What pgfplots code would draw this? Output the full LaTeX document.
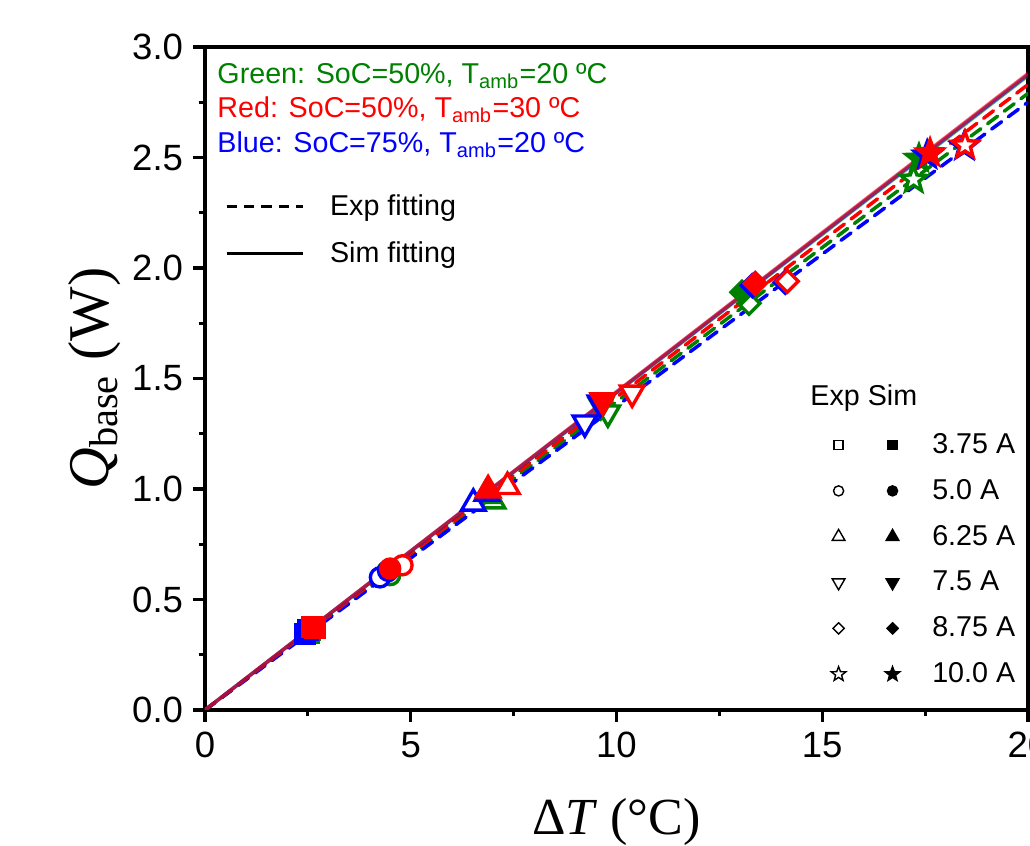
\documentclass[border=0pt]{standalone}
\usepackage{fontspec}
\setmainfont{Liberation Sans}
\newfontfamily\timesfont{Liberation Serif}
\usepackage{pgfplots}
\pgfplotsset{compat=1.18}

\definecolor{cg}{RGB}{0,128,0}
\definecolor{cr}{RGB}{255,0,0}
\definecolor{cb}{RGB}{0,0,255}

% custom marks: up/down triangle, diamond, five-point star (all fill+stroke)
\pgfdeclareplotmark{utri}{%
  \pgfpathmoveto{\pgfqpointpolar{90}{\pgfplotmarksize}}%
  \pgfpathlineto{\pgfqpointpolar{210}{\pgfplotmarksize}}%
  \pgfpathlineto{\pgfqpointpolar{330}{\pgfplotmarksize}}%
  \pgfpathclose\pgfusepathqfillstroke}
\pgfdeclareplotmark{dtri}{%
  \pgfpathmoveto{\pgfqpointpolar{270}{\pgfplotmarksize}}%
  \pgfpathlineto{\pgfqpointpolar{30}{\pgfplotmarksize}}%
  \pgfpathlineto{\pgfqpointpolar{150}{\pgfplotmarksize}}%
  \pgfpathclose\pgfusepathqfillstroke}
\pgfdeclareplotmark{dia}{%
  \pgfpathmoveto{\pgfqpoint{0pt}{\pgfplotmarksize}}%
  \pgfpathlineto{\pgfqpoint{\pgfplotmarksize}{0pt}}%
  \pgfpathlineto{\pgfqpoint{0pt}{-\pgfplotmarksize}}%
  \pgfpathlineto{\pgfqpoint{-\pgfplotmarksize}{0pt}}%
  \pgfpathclose\pgfusepathqfillstroke}
\pgfdeclareplotmark{pstar}{%
  \pgfpathmoveto{\pgfpointpolar{90}{\pgfplotmarksize}}%
  \pgfpathlineto{\pgfpointpolar{126}{0.42\pgfplotmarksize}}%
  \pgfpathlineto{\pgfpointpolar{162}{\pgfplotmarksize}}%
  \pgfpathlineto{\pgfpointpolar{198}{0.42\pgfplotmarksize}}%
  \pgfpathlineto{\pgfpointpolar{234}{\pgfplotmarksize}}%
  \pgfpathlineto{\pgfpointpolar{270}{0.42\pgfplotmarksize}}%
  \pgfpathlineto{\pgfpointpolar{306}{\pgfplotmarksize}}%
  \pgfpathlineto{\pgfpointpolar{342}{0.42\pgfplotmarksize}}%
  \pgfpathlineto{\pgfpointpolar{18}{\pgfplotmarksize}}%
  \pgfpathlineto{\pgfpointpolar{54}{0.42\pgfplotmarksize}}%
  \pgfpathclose\pgfusepathqfillstroke}

\pgfplotsset{
  cls/.style={scatter, only marks, scatter src=explicit symbolic,
    scatter/classes={
      s={mark=square*, mark size=3.3pt},
      c={mark=*, mark size=3.4pt},
      u={mark=utri, mark size=4.8pt},
      d={mark=dtri, mark size=4.8pt},
      m={mark=dia, mark size=3.9pt},
      t={mark=pstar, mark size=4.8pt}}},
  expm/.style={cls, mark options={draw=#1, fill=white, line width=1.2pt}},
  simm/.style={cls, mark options={draw=#1, fill=#1, line width=1.2pt}},
  expfit/.style={#1, line width=1.25pt, dash pattern=on 4.4pt off 3pt, line cap=round},
  simfit/.style={#1, line width=1.25pt, opacity=0.6},
  lgopen/.style={legend image code/.code={\path (0cm,0cm) (0.3cm,0cm); \draw[##1] plot coordinates {(0.15cm,0cm)};},
    only marks, mark options={draw=black, fill=white, line width=0.5pt}},
  lgfill/.style={legend image code/.code={\path (0cm,0cm) (0.64cm,0cm); \draw[##1] plot coordinates {(0.15cm,0cm)};},
    only marks, mark options={draw=black, fill=black, line width=0.5pt}},
  lgline/.style={legend image code/.code={\path (0cm,0cm) (1.275cm,0cm); \draw[##1] (0cm,0cm) -- (0.96cm,0cm);}},
}

\begin{document}
\begin{tikzpicture}
\begin{axis}[
  name=ax,
  scale only axis,
  width=10.2875cm, height=8.2875cm,
  xmin=0, xmax=20, ymin=0, ymax=3,
  xtick={0,5,10,15,20},
  ytick={0,0.5,1,1.5,2,2.5,3},
  minor x tick num=1, minor y tick num=1,
  tick align=outside, xtick pos=bottom, ytick pos=left,
  major tick length=0.15cm, minor tick length=0.08cm,
  every tick/.style={black, line width=1.1pt},
  axis line style={line width=1.1pt},
  yticklabel style={/pgf/number format/.cd, fixed, fixed zerofill, precision=1},
  /pgf/number format/assume math mode=true,
  ticklabel style={font=\fontsize{13}{15}\selectfont},
  every axis x label/.style={at={(axis description cs:0.5,0)}, anchor=center, yshift=-1.4cm},
  every axis y label/.style={at={(axis description cs:0,0.5)}, anchor=center, xshift=-1.375cm, rotate=90},
  xlabel={\timesfont\fontsize{18.5}{22}\selectfont Δ\textit{T} (°C)},
  ylabel={\timesfont\fontsize{20.5}{24}\selectfont\textit{Q}\textsubscript{base} (W)},
  legend style={draw=none, fill=none, inner sep=0pt, outer sep=0pt,
    at={(axis description cs:0.7546,0.4208)}, anchor=north west,
    font=\fontsize{10.2}{12}\selectfont,
    nodes={inner sep=0pt, text height=8pt, text depth=2pt},
    row sep=6.3pt,
    /tikz/every even column/.append style={column sep=0.325cm}},
  legend columns=2, legend cell align=left,
]
% Green: SoC=50%, Tamb=20 C
\addplot[expm=cg, forget plot] table[meta=c] {
x y c
2.52 0.350 s
4.50 0.610 c
7.00 0.945 u
9.79 1.345 d
13.22 1.840 m
17.22 2.400 t
};
\addplot[simm=cg, forget plot] table[meta=c] {
x y c
2.55 0.360 s
4.42 0.625 c
6.85 0.970 u
9.62 1.380 d
13.05 1.890 m
17.35 2.495 t
};
% Blue: SoC=75%, Tamb=20 C
\addplot[expm=cb, forget plot] table[meta=c] {
x y c
2.42 0.345 s
4.25 0.600 c
6.52 0.935 u
9.23 1.300 d
14.10 1.935 m
18.45 2.550 t
};
\addplot[simm=cb, forget plot] table[meta=c] {
x y c
2.50 0.360 s
4.45 0.630 c
6.85 0.980 u
9.60 1.390 d
13.30 1.920 m
17.55 2.510 t
};
% Red: SoC=50%, Tamb=30 C
\addplot[expm=cr, forget plot] table[meta=c] {
x y c
2.68 0.370 s
4.80 0.655 c
7.35 1.010 u
10.38 1.435 d
14.15 1.940 m
18.47 2.555 t
};
\addplot[simm=cr, forget plot] table[meta=c] {
x y c
2.60 0.375 s
4.50 0.640 c
6.88 0.995 u
9.67 1.400 d
13.37 1.930 m
17.62 2.520 t
};
% linear fits
\addplot[expfit=cg, forget plot] coordinates {(0,0) (20,2.79)};
\addplot[expfit=cb, forget plot] coordinates {(0,0) (20,2.75)};
\addplot[expfit=cr, forget plot] coordinates {(0,0) (20,2.83)};
\addplot[simfit=cg, forget plot] coordinates {(0,0) (20,2.870)};
\addplot[simfit=cb, forget plot] coordinates {(0,0) (20,2.875)};
\addplot[simfit=cr, forget plot] coordinates {(0,0) (20,2.880)};

% marker legend
\addlegendimage{lgopen, mark=square*, mark size=1.6pt}\addlegendentry{}
\addlegendimage{lgfill, mark=square*, mark size=1.6pt}\addlegendentry{3.75 A}
\addlegendimage{lgopen, mark=*, mark size=1.8pt}\addlegendentry{}
\addlegendimage{lgfill, mark=*, mark size=1.8pt}\addlegendentry{5.0 A}
\addlegendimage{lgopen, mark=utri, mark size=2.6pt}\addlegendentry{}
\addlegendimage{lgfill, mark=utri, mark size=2.6pt}\addlegendentry{6.25 A}
\addlegendimage{lgopen, mark=dtri, mark size=2.6pt}\addlegendentry{}
\addlegendimage{lgfill, mark=dtri, mark size=2.6pt}\addlegendentry{7.5 A}
\addlegendimage{lgopen, mark=dia, mark size=2pt}\addlegendentry{}
\addlegendimage{lgfill, mark=dia, mark size=2pt}\addlegendentry{8.75 A}
\addlegendimage{lgopen, mark=pstar, mark size=2.7pt}\addlegendentry{}
\addlegendimage{lgfill, mark=pstar, mark size=2.7pt}\addlegendentry{10.0 A}

\node[anchor=west, inner sep=0pt, font=\fontsize{10.2}{12}\selectfont] at (axis cs:14.70,1.412) {Exp Sim};
\node[anchor=west, inner sep=0pt, text=cg, font=\fontsize{10.2}{12}\selectfont] at (axis cs:0.29,2.869) {Green: SoC=50\%, T\textsubscript{amb}=20 ºC};
\node[anchor=west, inner sep=0pt, text=cr, font=\fontsize{10.2}{12}\selectfont] at (axis cs:0.29,2.715) {Red: SoC=50\%, T\textsubscript{amb}=30 ºC};
\node[anchor=west, inner sep=0pt, text=cb, font=\fontsize{10.2}{12}\selectfont] at (axis cs:0.29,2.557) {Blue: SoC=75\%, T\textsubscript{amb}=20 ºC};
\end{axis}

% second (hidden) axis only for the line-style legend
\begin{axis}[
  at={(ax.south west)}, anchor=south west,
  scale only axis, width=10.2875cm, height=8.2875cm,
  hide axis, xmin=0, xmax=20, ymin=0, ymax=3,
  legend style={draw=none, fill=none, inner sep=0pt, outer sep=0pt,
    at={(axis description cs:0.0243,0.78)}, anchor=north west,
    font=\fontsize{10.2}{12}\selectfont,
    nodes={inner sep=0pt, text height=8pt, text depth=2pt},
    row sep=6.7pt},
  legend cell align=left,
]
\addlegendimage{lgline, black, line width=1.1pt, dash pattern=on 3.6pt off 2.6pt}
\addlegendentry{Exp fitting}
\addlegendimage{lgline, black, line width=1.1pt}
\addlegendentry{Sim fitting}
\end{axis}

\pgfresetboundingbox
\path[use as bounding box] (ax.south west) ++(-2.5625cm,-1.7cm) rectangle ++(12.875cm,10.575cm);
\end{tikzpicture}
\end{document}
